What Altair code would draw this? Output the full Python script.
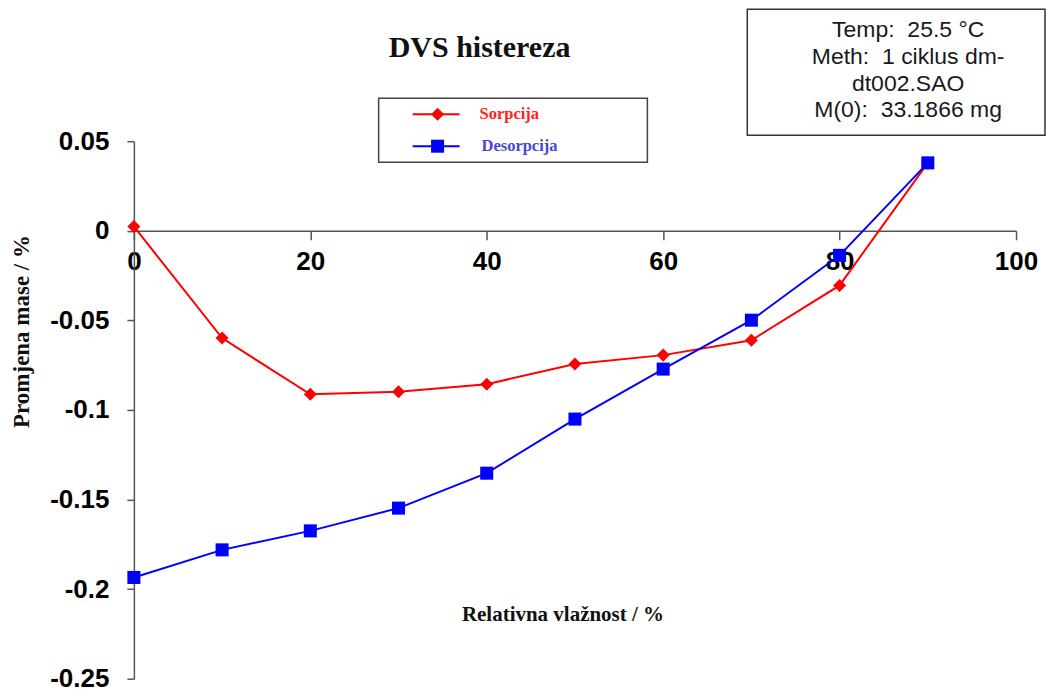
import altair as alt
import pandas as pd

# ---- data ----
rh = [0, 10, 20, 30, 40, 50, 60, 70, 80, 90]
sorpcija = [0.0024, -0.0599, -0.0913, -0.0898, -0.0856, -0.0744, -0.0694, -0.0611, -0.0305, 0.0379]
desorpcija = [-0.1935, -0.1781, -0.1675, -0.1548, -0.1353, -0.1051, -0.0772, -0.0499, -0.0137, 0.0379]
series_names = ["Sorpcija", "Desorpcija"]
series_colors = ["#ff0000", "#0000ff"]
series_shapes = ["diamond", "square"]
x_ticks = [0, 20, 40, 60, 80, 100]
y_ticks = [0.05, 0, -0.05, -0.1, -0.15, -0.2, -0.25]
info_lines = ["Temp:\u00a0\u00a025.5 °C", "Meth:\u00a0\u00a01 ciklus dm-", "dt002.SAO", "M(0):\u00a0\u00a033.1866\u00a0mg"]

rows = []
for name, vals in zip(series_names, [sorpcija, desorpcija]):
    for x, v in zip(rh, vals):
        rows.append({"rh": x, "val": v, "series": name})
df = pd.DataFrame(rows)

W, H = 883, 538
YMIN, YMAX = -0.25, 0.05
zero_from_bottom = H * (0 - YMIN) / (YMAX - YMIN)

SANS = "Liberation Sans"
SERIF = "Liberation Serif"

x_enc = alt.X(
    "rh:Q",
    scale=alt.Scale(domain=[0, 100], nice=False),
    axis=alt.Axis(
        orient="bottom", offset=-zero_from_bottom, values=x_ticks, grid=False,
        tickSize=9, tickColor="#555", tickWidth=1.5, domainColor="#555", domainWidth=1.5,
        labelFont=SANS, labelFontWeight="bold", labelFontSize=26, labelColor="black",
        labelPadding=9, labelFlush=False, labelOverlap=False, labelBound=False,
        title="Relativna vlažnost / %", titleFont=SERIF, titleFontWeight="bold",
        titleFontSize=21, titleColor="#111", titleX=429, titleY=384,
        titleAlign="center", titleBaseline="middle", titleAnchor="start",
    ),
)
y_enc = alt.Y(
    "val:Q",
    scale=alt.Scale(domain=[YMIN, YMAX], nice=False, zero=False),
    axis=alt.Axis(
        orient="left", values=y_ticks, grid=False,
        tickSize=7, tickColor="#555", tickWidth=1.5, domainColor="#555", domainWidth=1.5,
        labelFont=SANS, labelFontWeight="bold", labelFontSize=26, labelColor="black",
        labelPadding=18, labelFlush=False, labelOverlap=False, labelBound=False,
        labelExpr="replace(format(datum.value, '.2~f'), '\u2212', '-')",
        title="Promjena mase / %", titleFont=SERIF, titleFontWeight="bold",
        titleFontSize=23, titleColor="#111", titleX=-112, titleY=190,
        titleAngle=-90, titleAlign="center", titleBaseline="middle",
    ),
)
color_enc = alt.Color("series:N", scale=alt.Scale(domain=series_names, range=series_colors), legend=None)

base = alt.Chart(df).encode(x=x_enc, y=y_enc, color=color_enc, order="rh:Q")
lines = base.mark_line(strokeWidth=2)
points = base.mark_point(filled=True, opacity=1, size=170).encode(
    shape=alt.Shape("series:N", scale=alt.Scale(domain=series_names, range=series_shapes), legend=None)
)

one = pd.DataFrame({"k": [0]})


def txt(x, y, s, **kw):
    return alt.Chart(one).mark_text(text=s, **kw).encode(x=alt.value(x), y=alt.value(y))


def box(x1, x2, y1, y2, stroke):
    return alt.Chart(one).mark_rect(fill="white", stroke=stroke, strokeWidth=1.5).encode(
        x=alt.value(x1), x2=alt.value(x2), y=alt.value(y1), y2=alt.value(y2)
    )


# chart title
title = txt(346, -84, "DVS histereza", font=SERIF, fontWeight="bold", fontSize=30,
            align="center", baseline="alphabetic", color="#111")

# legend
legend_parts = [box(245, 514, -43, 21, "#444")]
leg_rows = [(-27, "#ff2020", 346), (5, "#4646d6", 348)]
for (yy, tcol, tx), name, col, shp in zip(leg_rows, series_names, series_colors, series_shapes):
    legend_parts.append(
        alt.Chart(one).mark_rule(color=col, strokeWidth=2).encode(
            x=alt.value(279), x2=alt.value(326), y=alt.value(yy))
    )
    legend_parts.append(
        alt.Chart(one).mark_point(shape=shp, filled=True, opacity=1, size=170, color=col).encode(
            x=alt.value(304), y=alt.value(yy))
    )
    legend_parts.append(txt(tx, yy, name, font=SERIF, fontWeight="bold", fontSize=16.5,
                            align="left", baseline="middle", color=tcol))

# info box
info_parts = [box(614, 912, -132, -6, "#333")]
for i, line in enumerate(info_lines):
    info_parts.append(txt(775, -104 + i * 26.7, line, font=SANS, fontSize=23,
                          align="center", baseline="alphabetic", color="#1a1a1a"))

chart = alt.layer(lines, points, title, *legend_parts, *info_parts).properties(
    width=W, height=H,
    padding={"left": 126, "top": 133, "right": 32, "bottom": 13},
    autosize=alt.AutoSizeParams(type="none"),
    background="white",
).configure_view(stroke=None)

chart.save("out.html", embed_options={"renderer": "svg", "actions": False})
